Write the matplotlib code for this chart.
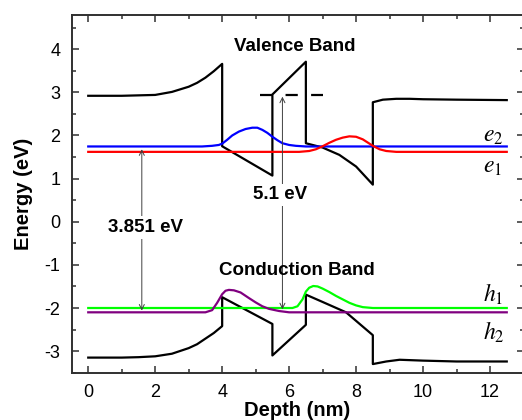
import matplotlib
matplotlib.use("Agg")
import matplotlib.pyplot as plt
from matplotlib.ticker import MultipleLocator

plt.rcParams['font.family'] = ['Liberation Sans', 'DejaVu Sans']
plt.rcParams['mathtext.fontset'] = 'stix'
plt.rcParams['axes.unicode_minus'] = False

# Valence band edge (upper black curve)
vb_x = [0, 1.0, 1.5, 2.0, 2.5, 3.0, 3.25, 3.5, 3.75, 4.0, 4.0, 5.5, 5.5, 6.5, 6.5,
        7.0, 7.5, 8.0, 8.5, 8.5, 8.8, 9.2, 9.6, 10.0, 11.0, 12.5]
vb_y = [2.92, 2.92, 2.93, 2.94, 3.01, 3.13, 3.22, 3.34, 3.49, 3.66, 1.75, 1.07, 2.95, 3.71, 1.82,
        1.72, 1.55, 1.28, 0.86, 2.77, 2.83, 2.85, 2.85, 2.84, 2.83, 2.82]

# Conduction band edge (lower black curve)
cb_x = [0, 1.0, 1.5, 2.0, 2.5, 3.0, 3.25, 3.5, 3.75, 4.0, 4.0, 5.5, 5.5, 6.5, 6.5,
        7.0, 7.7, 8.5, 8.5, 8.9, 9.3, 10.0, 11.0, 12.5]
cb_y = [-3.15, -3.15, -3.14, -3.12, -3.06, -2.93, -2.84, -2.71, -2.58, -2.42, -1.75, -2.37, -3.10, -2.39, -1.69,
        -1.86, -2.10, -2.63, -3.30, -3.24, -3.20, -3.22, -3.24, -3.24]

# Dashed level
dash_x = [5.13, 7.0]
dash_y = [2.94, 2.94]

# e2 (blue)
e2_x = [0, 3.4, 3.7, 3.9, 4.0, 4.15, 4.3, 4.5, 4.7, 4.9, 5.05, 5.2, 5.35, 5.5, 5.65, 5.8, 6.0, 6.2, 6.5, 12.5]
e2_y = [1.745, 1.745, 1.76, 1.78, 1.81, 1.90, 2.00, 2.09, 2.15, 2.18, 2.18, 2.13, 2.06, 1.97, 1.89, 1.82, 1.78, 1.76, 1.745, 1.745]

# e1 (red)
e1_x = [0, 6.3, 6.6, 6.8, 7.0, 7.2, 7.4, 7.6, 7.8, 8.0, 8.2, 8.4, 8.5, 8.7, 8.9, 9.2, 12.5]
e1_y = [1.62, 1.62, 1.64, 1.68, 1.75, 1.83, 1.90, 1.95, 1.98, 1.97, 1.91, 1.81, 1.76, 1.68, 1.64, 1.62, 1.62]

# h1 (green)
h1_x = [0, 6.1, 6.25, 6.4, 6.5, 6.6, 6.72, 6.85, 7.0, 7.2, 7.4, 7.6, 7.8, 8.0, 8.2, 8.5, 12.5]
h1_y = [-2.0, -2.0, -1.96, -1.80, -1.62, -1.53, -1.49, -1.50, -1.55, -1.63, -1.72, -1.80, -1.88, -1.94, -1.98, -2.0, -2.0]

# h2 (purple)
h2_x = [0, 3.5, 3.7, 3.85, 4.0, 4.1, 4.2, 4.35, 4.55, 4.8, 5.0, 5.2, 5.4, 5.7, 6.0, 12.5]
h2_y = [-2.1, -2.1, -2.05, -1.88, -1.68, -1.60, -1.58, -1.59, -1.64, -1.77, -1.87, -1.96, -2.02, -2.07, -2.1, -2.1]

fig = plt.figure(figsize=(5.22, 4.2), dpi=100)
ax = fig.add_axes([71.5 / 522, 1 - 372.7 / 420, 452 / 522, (372.7 - 14.7) / 420])

ax.plot(vb_x, vb_y, color='black', lw=1.6)
ax.plot(cb_x, cb_y, color='black', lw=1.6)
ax.plot(dash_x, dash_y, color='black', lw=1.6, dashes=(5.5, 6))

ax.plot(e2_x, e2_y, color='#0000ff', lw=1.6)
ax.plot(e1_x, e1_y, color='#ff0000', lw=1.6)
ax.plot(h1_x, h1_y, color='#00ff00', lw=1.6)
ax.plot(h2_x, h2_y, color='#800080', lw=1.6)

arrow_kw = dict(arrowstyle='<->', color='#404040', lw=0.7, mutation_scale=9, shrinkA=0, shrinkB=0)
ax.annotate('', xy=(1.6, 1.68), xytext=(1.6, -2.06), arrowprops=arrow_kw)
ax.annotate('', xy=(5.8, 2.9), xytext=(5.8, -2.03), arrowprops=arrow_kw)

bbox = dict(facecolor='white', edgecolor='none', pad=2)
ax.text(1.72, -0.13, '3.851 eV', fontsize=13.5, fontweight='bold', ha='center', va='center', bbox=bbox)
ax.text(5.72, 0.62, '5.1 eV', fontsize=13.5, fontweight='bold', ha='center', va='center', bbox=bbox)
ax.text(6.17, 4.07, 'Valence Band', fontsize=13.5, fontweight='bold', ha='center', va='center')
ax.text(6.24, -1.12, 'Conduction Band', fontsize=13.5, fontweight='bold', ha='center', va='center')

ax.text(12.08, 1.98, r'$e_2$', fontsize=17, ha='center', va='center')
ax.text(12.08, 1.28, r'$e_1$', fontsize=17, ha='center', va='center')
ax.text(12.1, -1.68, r'$h_1$', fontsize=17, ha='center', va='center')
ax.text(12.1, -2.56, r'$h_2$', fontsize=17, ha='center', va='center')

ax.set_xlim(-0.5, 13)
ax.set_ylim(-3.5, 4.8)
ax.xaxis.set_major_locator(MultipleLocator(2))
ax.xaxis.set_minor_locator(MultipleLocator(1))
ax.yaxis.set_major_locator(MultipleLocator(1))
ax.yaxis.set_minor_locator(MultipleLocator(0.5))
ax.tick_params(which='both', direction='in', top=True, right=True, labelsize=13, width=1.1, color='#303030')
ax.tick_params(which='major', length=5, pad=8)
ax.tick_params(which='minor', length=3)
for s in ax.spines.values():
    s.set_linewidth(1.4)
    s.set_color('#303030')

ax.set_xlabel('Depth (nm)', fontsize=14.5, fontweight='bold', labelpad=0)
ax.set_ylabel('Energy (eV)', fontsize=14.5, fontweight='bold', labelpad=8)

fig.savefig('out.png', dpi=100)
